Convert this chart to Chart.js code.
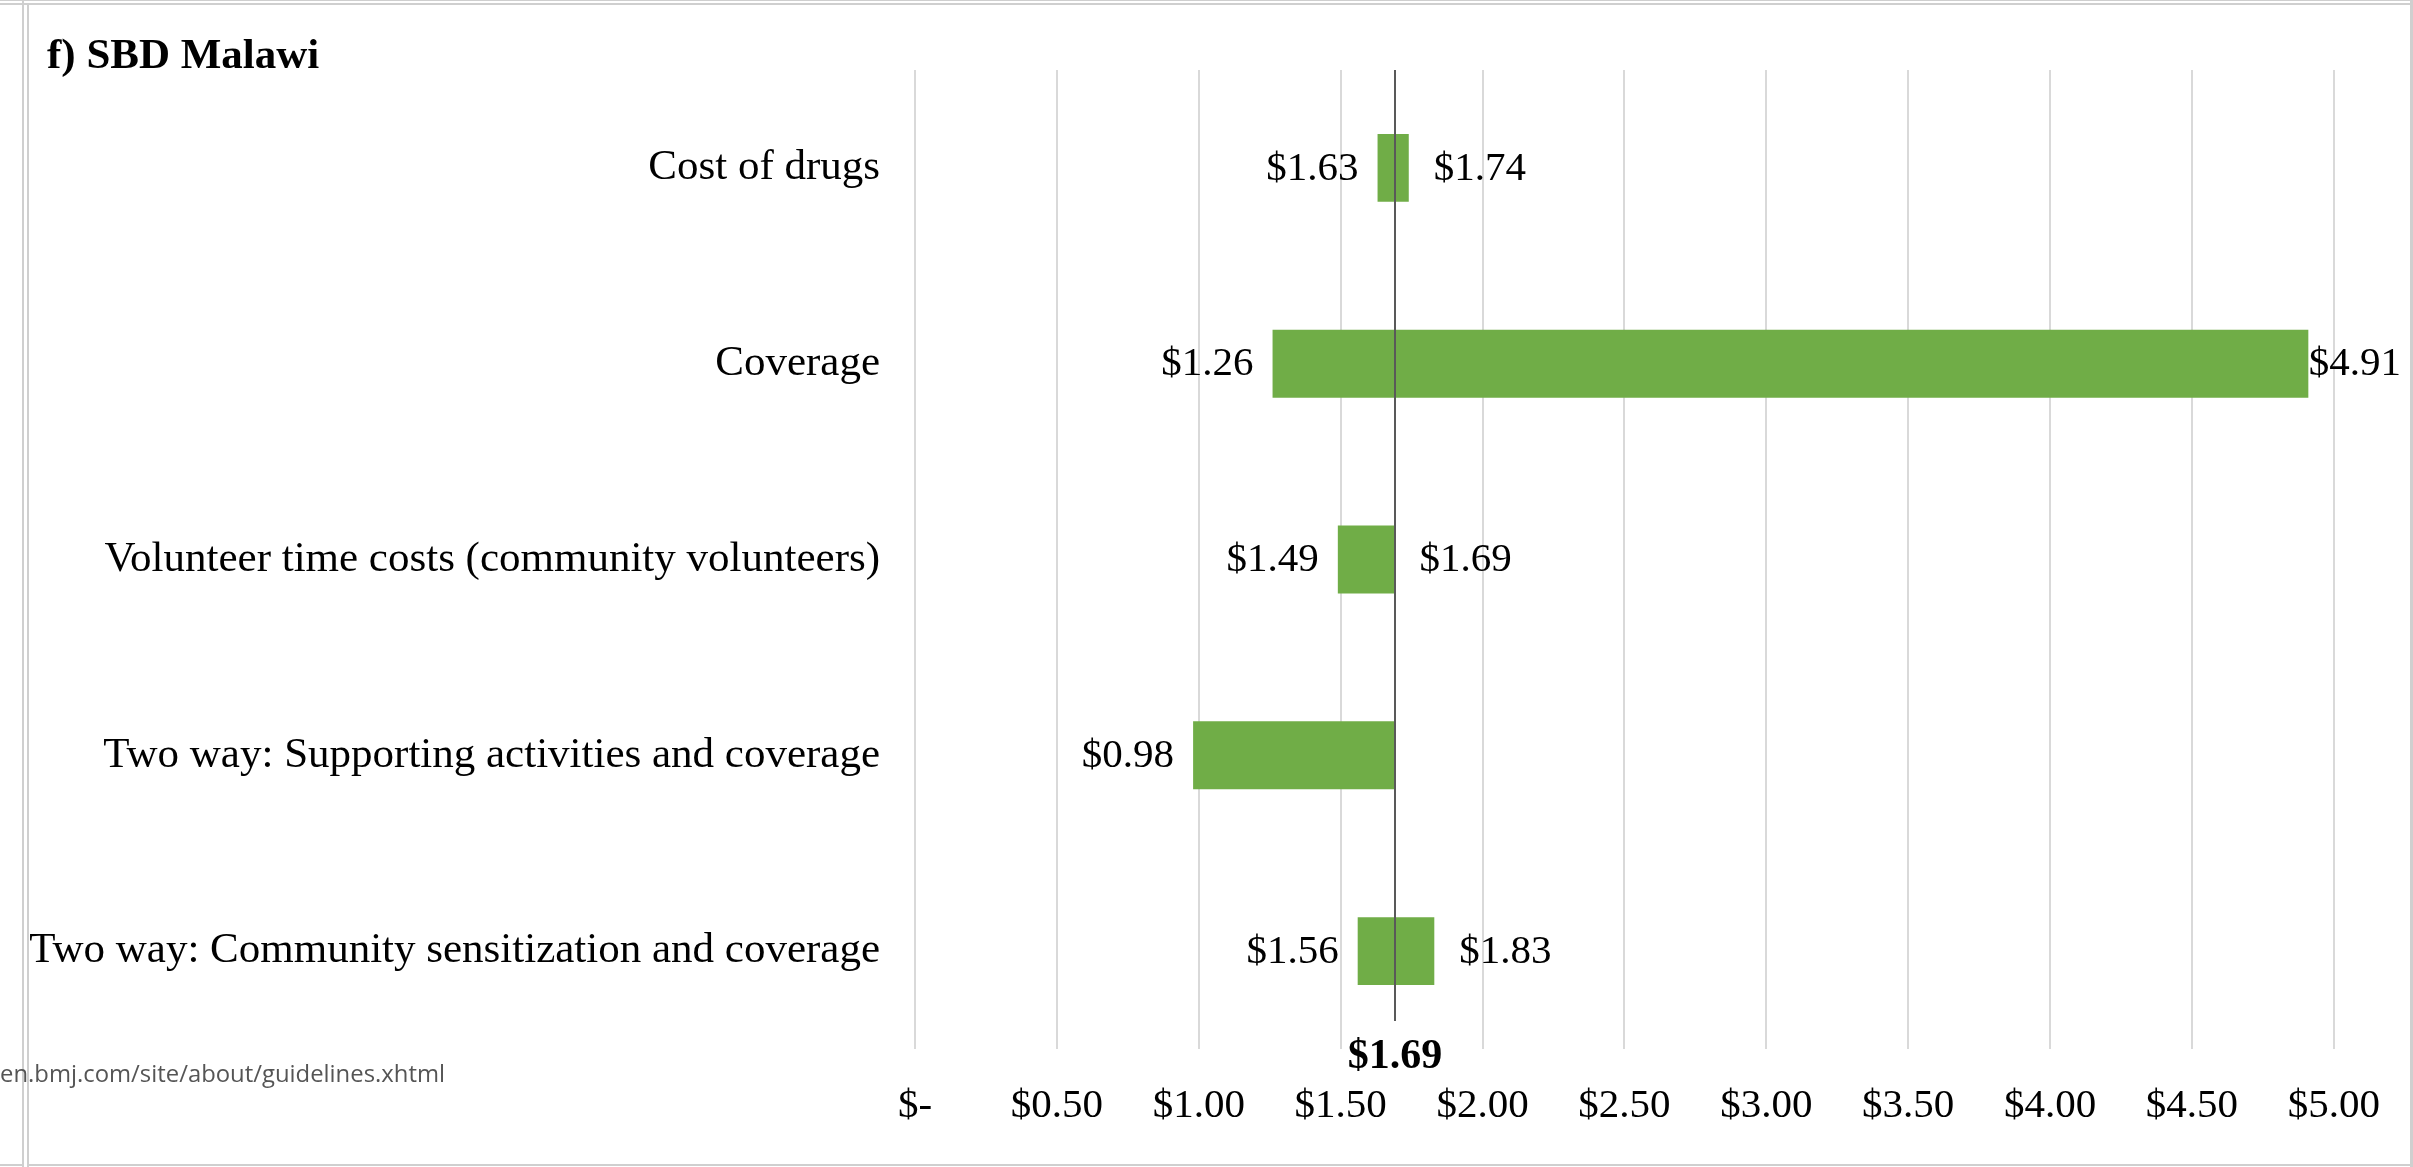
<!DOCTYPE html>
<html><head><meta charset="utf-8">
<script src="https://cdn.jsdelivr.net/npm/chart.js@4.4.1/dist/chart.umd.min.js"></script>
<style>html,body{margin:0;padding:0;background:#fff;overflow:hidden}#wrap{position:absolute;left:0;top:0;width:2413px;height:1167px}</style>
</head><body><div id="wrap"><canvas id="c" width="2413" height="1167"></canvas></div>
<script>
const chartTitle = 'f) SBD Malawi';
const categories = ['Cost of drugs', 'Coverage', 'Volunteer time costs (community volunteers)', 'Two way: Supporting activities and coverage', 'Two way: Community sensitization and coverage'];
const lowValues = [1.63, 1.26, 1.49, 0.98, 1.56];
const highValues = [1.74, 4.91, 1.69, 1.69, 1.83];
const showHighLabel = [true, true, true, false, true];
const baseValue = 1.69;
const xTickValues = [0, 0.5, 1, 1.5, 2, 2.5, 3, 3.5, 4, 4.5, 5];
const watermarkText = 'en.bmj.com/site/about/guidelines.xhtml';

const SERIF = '"Liberation Serif", "Times New Roman", serif';
function fmt(v) { return v === 0 ? '$-' : '$' + v.toFixed(2); }

const decor = {
  id: 'decor',
  beforeDraw(chart) {
    const ctx = chart.ctx;
    ctx.save();
    ctx.fillStyle = '#fff';
    ctx.fillRect(0, 0, chart.width, chart.height);
    ctx.fillStyle = '#cfcfcf';
    ctx.fillRect(0, 0, chart.width, 1);
    ctx.fillRect(0, 3, chart.width, 2);
    ctx.fillRect(22, 0, 2, chart.height);
    ctx.fillRect(27, 3, 2, chart.height - 3);
    ctx.fillRect(chart.width - 3, 0, 3, chart.height);
    ctx.fillRect(0, chart.height - 3, 24, 2);
    ctx.fillRect(27, chart.height - 3, chart.width - 27, 2);
    // title
    ctx.fillStyle = '#000';
    ctx.font = 'bold 43px ' + SERIF;
    ctx.textAlign = 'left';
    ctx.textBaseline = 'alphabetic';
    ctx.fillText(chartTitle, 47, 68);
    // watermark
    ctx.font = '24px "Open Sans", sans-serif';
    const w = ctx.measureText(watermarkText).width;
    ctx.fillStyle = '#555';
    ctx.translate(0, 1082);
    ctx.scale(445 / w, 1);
    ctx.fillText(watermarkText, 0, 0);
    ctx.restore();
  },
  afterDatasetsDraw(chart) {
    const ctx = chart.ctx;
    const xs = chart.scales.x, ys = chart.scales.y;
    const area = chart.chartArea;
    ctx.save();
    // base line
    const bx = Math.round(xs.getPixelForValue(baseValue));
    ctx.strokeStyle = '#595959';
    ctx.lineWidth = 2;
    ctx.beginPath();
    ctx.moveTo(bx, area.top);
    ctx.lineTo(bx, area.bottom - 28);
    ctx.stroke();
    // value labels
    ctx.font = '41px ' + SERIF;
    ctx.fillStyle = '#000';
    ctx.textBaseline = 'middle';
    categories.forEach((c, i) => {
      const y = ys.getPixelForValue(i) + 1;
      const lx = xs.getPixelForValue(lowValues[i]);
      ctx.textAlign = 'right';
      ctx.fillText(fmt(lowValues[i]), lx - 19, y);
      if (showHighLabel[i]) {
        const hx = xs.getPixelForValue(highValues[i]);
        const t = fmt(highValues[i]);
        const tw = ctx.measureText(t).width;
        let x = hx + 25;
        if (x + tw > chart.width - 12) x = chart.width - 12 - tw;
        ctx.textAlign = 'left';
        ctx.fillText(t, x, y);
      }
    });
    // base value label
    ctx.font = 'bold 42px ' + SERIF;
    ctx.textAlign = 'center';
    ctx.textBaseline = 'alphabetic';
    ctx.fillText(fmt(baseValue), bx, 1068);
    ctx.restore();
  }
};

new Chart(document.getElementById('c'), {
  type: 'bar',
  data: {
    labels: categories,
    datasets: [{
      data: lowValues.map((l, i) => [l, highValues[i]]),
      backgroundColor: '#70AD47',
      borderWidth: 0,
      barPercentage: 0.347,
      categoryPercentage: 1
    }]
  },
  options: {
    indexAxis: 'y',
    responsive: false,
    animation: false,
    devicePixelRatio: 1,
    layout: { padding: { top: 70, right: 77, bottom: 0, left: 0 } },
    plugins: { legend: { display: false }, tooltip: { enabled: false }, title: { display: false } },
    scales: {
      x: {
        type: 'linear', min: 0, max: 5, position: 'bottom',
        afterBuildTicks: s => { s.ticks = xTickValues.map(v => ({ value: v })); },
        afterFit: s => { s.height = 118; },
        ticks: { callback: v => fmt(v), font: { family: SERIF, size: 41 }, color: '#000', padding: 33, maxRotation: 0, autoSkip: false },
        grid: { color: '#d9d9d9', lineWidth: 2, drawTicks: false },
        border: { display: false }
      },
      y: {
        type: 'category',
        afterFit: s => { s.width = 915; },
        ticks: { font: { family: SERIF, size: 43 }, color: '#000', padding: 35, autoSkip: false },
        grid: { display: false, drawTicks: false },
        border: { display: false }
      }
    }
  },
  plugins: [decor]
});
</script>
</body></html>
